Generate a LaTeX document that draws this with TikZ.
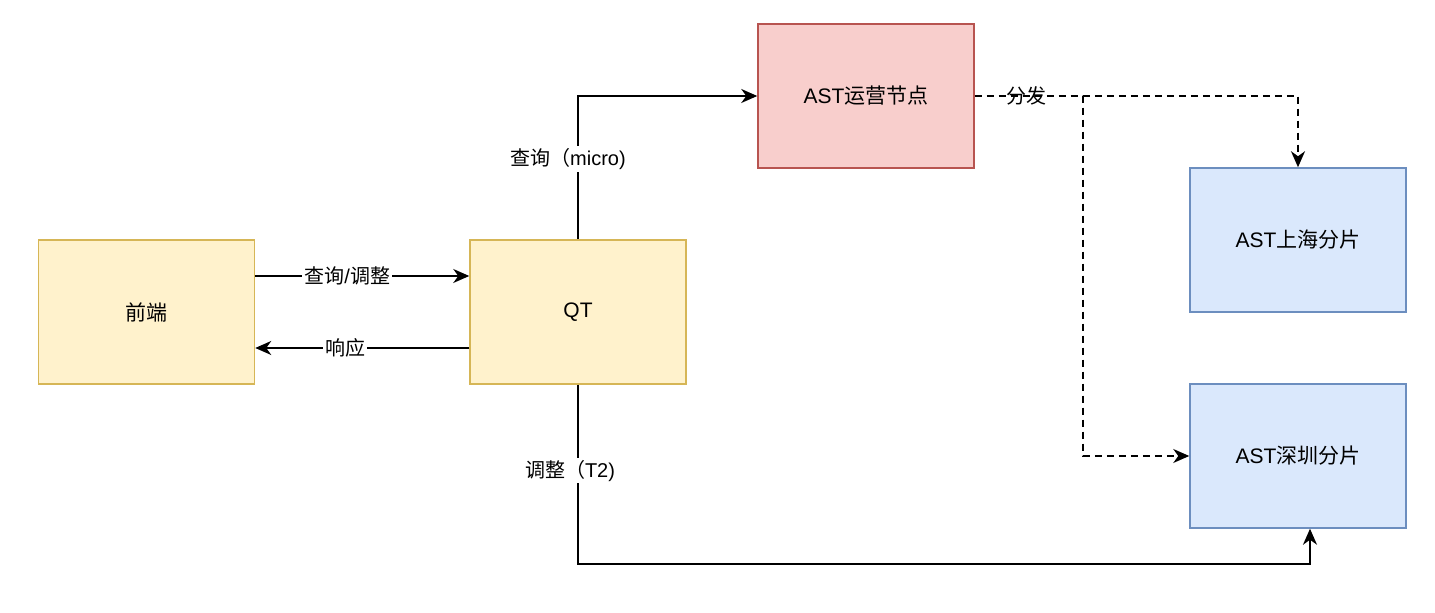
\documentclass[tikz,border=0pt]{standalone}
\usepackage{fontspec}
\setmainfont{Liberation Sans}
\newfontfamily\cjk{Noto Sans CJK SC}
\usetikzlibrary{arrows.meta,positioning}
\definecolor{yellowfill}{HTML}{FFF2CC}
\definecolor{yellowline}{HTML}{D6B656}
\definecolor{redfill}{HTML}{F8CECC}
\definecolor{redline}{HTML}{B85450}
\definecolor{bluefill}{HTML}{DAE8FC}
\definecolor{blueline}{HTML}{6C8EBF}

\tikzset{
  box/.style={draw, line width=0.75pt, minimum width=108pt, minimum height=72pt,
    inner sep=0pt, font=\fontsize{10.5}{12}\selectfont},
  yellowbox/.style={box, fill=yellowfill, draw=yellowline},
  redbox/.style={box, fill=redfill, draw=redline},
  bluebox/.style={box, fill=bluefill, draw=blueline},
  link/.style={line width=0.8pt, -{Stealth[length=8pt,width=7pt,inset=2.5pt]}},
  dist/.style={link, dash pattern=on 3.5pt off 2.5pt},
  lab/.style={fill=white, inner sep=1pt, font=\fontsize{10}{12}\selectfont}
}

\begin{document}
\begin{tikzpicture}[x=0.5pt, y=-0.5pt]
    \useasboundingbox (0,0) rectangle (1435,613);

    % boxes
    \node[yellowbox] (frontend) at (146.5, 312) {\cjk 前端};
    \node[yellowbox] (qt) at (578, 312) {QT};
    \node[redbox] (astops) at (866, 96) {AST{\cjk 运营节点}};
    \node[bluebox] (astsh) at (1298, 240) {AST{\cjk 上海分片}};
    \node[bluebox] (astsz) at (1298, 456) {AST{\cjk 深圳分片}};

    % frontend <-> QT
    \draw[link] ([yshift=18pt]frontend.east) -- ([yshift=18pt]qt.west)
        node[lab, pos=0.43] {{\cjk 查询}/{\cjk 调整}};
    \draw[link] ([yshift=-18pt]qt.west) -- ([yshift=-18pt]frontend.east)
        node[lab, pos=0.58] {\cjk 响应};

    % QT to the AST side
    \draw[link] (qt.north) |- (astops.west)
        node[lab, pos=0.28, xshift=-5pt] {{\cjk 查询（}micro)};
    \coordinate (bottomturn) at (578, 564);
    \draw[link] (qt.south) -- node[lab, pos=0.48, xshift=-4pt] {{\cjk 调整（}T2)}
        (bottomturn) -| ([xshift=6pt]astsz.south);

    % distribution
    \coordinate (split) at (1083, 96);
    \draw[dist] (astops.east) -| (astsh.north)
        node[lab, pos=0.08] {\cjk 分发};
    \draw[dist] (astops.east) -- (split) |- (astsz.west);
\end{tikzpicture}
\end{document}
